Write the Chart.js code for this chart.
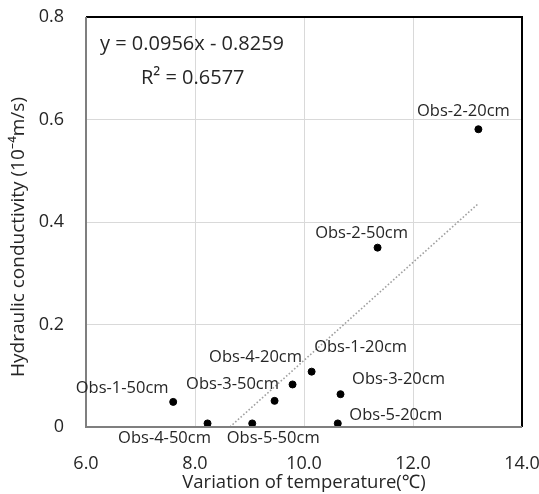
<!DOCTYPE html>
<html>
<head>
<meta charset="utf-8">
<script src="https://cdn.jsdelivr.net/npm/chart.js@4.4.1/dist/chart.umd.min.js"></script>
<style>
  html, body { margin: 0; padding: 0; background: #fff; }
  #wrap { width: 539px; height: 494px; position: relative; }
</style>
</head>
<body>
<div id="wrap"><canvas id="c"></canvas></div>
<script>
(function () {
  "use strict";

  const names = ["Obs-1-20cm", "Obs-1-50cm", "Obs-2-20cm", "Obs-2-50cm", "Obs-3-20cm",
                 "Obs-3-50cm", "Obs-4-20cm", "Obs-4-50cm", "Obs-5-20cm", "Obs-5-50cm"];
  const tempVar = [10.14, 7.60, 13.20, 11.35, 10.67, 9.46, 9.79, 8.23, 10.62, 9.05];
  const conductivity = [0.108, 0.049, 0.581, 0.350, 0.064, 0.051, 0.083, 0.007, 0.007, 0.007];

  // linear trendline (dotted), endpoints from the picture
  const trendX = [8.64, 13.20];
  const trendY = [0.0, 0.436];
  const eqText = "y = 0.0956x - 0.8259";
  const r2Text = "R² = 0.6577";
  const xTitle = "Variation of temperature(℃)";
  const yTitle = "Hydraulic conductivity (10⁻⁴m/s)";

  // where each label sits relative to its dot (px)
  const labelOffsets = {
    "Obs-1-20cm": [49, -24], "Obs-1-50cm": [-51, -14], "Obs-2-20cm": [-15, -18],
    "Obs-2-50cm": [-16, -14], "Obs-3-20cm": [58, -15], "Obs-3-50cm": [-42, -17],
    "Obs-4-20cm": [-37, -27], "Obs-4-50cm": [-43, 15], "Obs-5-20cm": [58, -8],
    "Obs-5-50cm": [21, 15]
  };

  const FONT = "'Open Sans', 'Noto Sans', sans-serif";
  const TXT = "#262626";

  const points = tempVar.map(function (x, i) { return { x: x, y: conductivity[i] }; });
  const trend = trendX.map(function (x, i) { return { x: x, y: trendY[i] }; });

  function noPad(s) {
    s.paddingTop = 0; s.paddingBottom = 0; s.paddingLeft = 0; s.paddingRight = 0;
  }

  const extras = {
    id: "extras",
    afterDatasetsDraw: function (chart) {
      const ctx = chart.ctx;
      const a = chart.chartArea;
      const xs = chart.scales.x, ys = chart.scales.y;
      ctx.save();
      // frame: black top/right, grey axes
      ctx.lineWidth = 2;
      ctx.strokeStyle = "#000";
      ctx.beginPath();
      ctx.moveTo(a.left, a.top); ctx.lineTo(a.right, a.top); ctx.lineTo(a.right, a.bottom);
      ctx.stroke();
      ctx.strokeStyle = "#7f7f7f";
      ctx.beginPath();
      ctx.moveTo(a.left, a.top); ctx.lineTo(a.left, a.bottom); ctx.lineTo(a.right, a.bottom);
      ctx.stroke();

      // point labels
      ctx.fillStyle = TXT;
      ctx.font = "16.5px " + FONT;
      ctx.textAlign = "center";
      ctx.textBaseline = "middle";
      names.forEach(function (n, i) {
        const off = labelOffsets[n];
        ctx.fillText(n, xs.getPixelForValue(tempVar[i]) + off[0], ys.getPixelForValue(conductivity[i]) + off[1]);
      });

      // equation
      ctx.font = "20px " + FONT;
      ctx.textAlign = "left";
      ctx.fillText(eqText, a.left + 14, a.top + 27);
      ctx.fillText(r2Text, a.left + 55, a.top + 61);

      // axis titles
      ctx.font = "18.5px " + FONT;
      ctx.textAlign = "center";
      ctx.fillText(xTitle, (a.left + a.right) / 2, 483);
      ctx.translate(19, 237);
      ctx.rotate(-Math.PI / 2);
      ctx.font = "19px " + FONT;
      ctx.fillText(yTitle, 0, 0);
      ctx.restore();
    }
  };

  new Chart(document.getElementById("c"), {
    type: "scatter",
    data: {
      datasets: [
        {
          label: "obs",
          data: points,
          backgroundColor: "#000",
          borderColor: "#000",
          pointRadius: 3.5,
          pointHoverRadius: 3.5
        },
        {
          label: "trend",
          type: "line",
          data: trend,
          borderColor: "#a0a0a0",
          borderWidth: 1.6,
          borderDash: [1.6, 2],
          pointRadius: 0,
          fill: false
        }
      ]
    },
    options: {
      responsive: true,
      maintainAspectRatio: false,
      animation: false,
      events: [],
      layout: { padding: { left: 0, right: 17, top: 17, bottom: 0 } },
      plugins: { legend: { display: false }, tooltip: { enabled: false } },
      scales: {
        x: {
          type: "linear",
          min: 6, max: 14,
          afterFit: function (s) { s.height = 67; noPad(s); },
          grid: { color: "#d9d9d9", lineWidth: 1, drawTicks: false },
          border: { display: false },
          ticks: {
            stepSize: 2, padding: 26, color: TXT,
            font: { family: FONT, size: 18 },
            callback: function (v) { return Number(v).toFixed(1); }
          }
        },
        y: {
          type: "linear",
          min: 0, max: 0.8,
          afterFit: function (s) { s.width = 86; noPad(s); },
          grid: { color: "#d9d9d9", lineWidth: 1, drawTicks: false },
          border: { display: false },
          ticks: {
            stepSize: 0.2, padding: 22, color: TXT,
            font: { family: FONT, size: 18 },
            callback: function (v) { return v === 0 ? "0" : Number(v).toFixed(1); }
          }
        }
      }
    },
    plugins: [extras]
  });
})();
</script>
</body>
</html>
